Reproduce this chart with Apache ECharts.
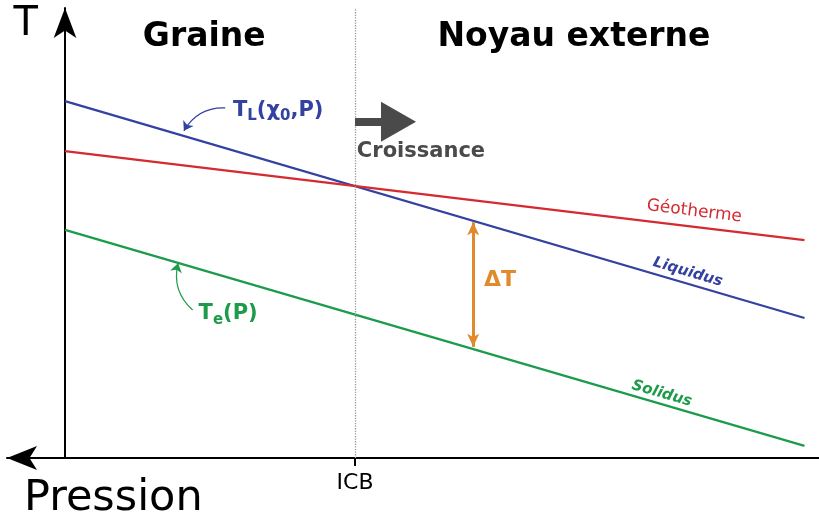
<!DOCTYPE html>
<html>
<head>
<meta charset="utf-8">
<title>Graine / Noyau externe</title>
<script src="https://cdn.jsdelivr.net/npm/echarts@6/dist/echarts.min.js"></script>
<style>
  html, body { margin: 0; padding: 0; background: #fff; }
  #chart { width: 819px; height: 515px; }
</style>
</head>
<body>
<div id="chart"></div>
<script>
// pression (unités arbitraires) aux deux bouts des droites
let pression = [0, 102];
let liquidus = [79.3, 31.1];
let geotherme = [68.2, 48.4];
let solidus = [50.7, 2.7];
let icb = 40;

let font = 'DejaVu Sans';
let blue = '#3341a0';
let red = '#d42a30';
let green = '#1c9c4a';
let orange = '#e08a2c';
let grey = '#4a4a4a';

function toPoints(values) {
  return pression.map(function (p, i) { return [p, values[i]]; });
}

// markPoint invisible qui ne sert qu'à porter un texte
let textOnly = { symbol: 'circle', symbolSize: 1, silent: true, itemStyle: { color: 'rgba(0,0,0,0)' } };

function txt(coord, text, style) {
  return { coord: coord, label: Object.assign({ show: true, formatter: text, fontFamily: font, position: 'inside' }, style) };
}

function subRich(color) {
  return {
    m: { fontFamily: font, fontSize: 21, fontWeight: 'bold', color: color, lineHeight: 30 },
    s: { fontFamily: font, fontSize: 15, fontWeight: 'bold', color: color, lineHeight: 18, padding: [12, 0, 0, 0] }
  };
}

// petite flèche courbe qui relie un texte à sa droite
function curvedArrow(from, to, color, curveness) {
  return {
    type: 'lines', coordinateSystem: 'cartesian2d', silent: true,
    symbol: ['none', 'arrow'], symbolSize: [6, 9],
    lineStyle: { color: color, width: 1.2, opacity: 1, curveness: curveness },
    data: [{ coords: [from, to] }]
  };
}

let chart = echarts.init(document.getElementById('chart'));

let option = {
  animation: false,
  grid: { left: 7, right: 0, top: 8, bottom: 57, outerBoundsMode: 'none' },
  xAxis: {
    type: 'value', min: -8, max: 104,
    name: 'Pression', nameLocation: 'start', nameGap: -17, nameMoveOverlap: false,
    nameTextStyle: { fontFamily: font, fontSize: 43, color: '#000', align: 'left', verticalAlign: 'top', padding: [19, 0, 0, 0] },
    axisLine: { show: true, symbol: ['arrow', 'none'], symbolSize: [18, 30], lineStyle: { color: '#000', width: 2 } },
    axisTick: { show: true, customValues: [icb], length: 8, lineStyle: { color: '#000', width: 2 } },
    axisLabel: { show: true, customValues: [icb], formatter: function () { return 'ICB'; }, margin: 14, fontFamily: font, fontSize: 22, color: '#000' },
    splitLine: { show: false }
  },
  yAxis: {
    type: 'value', min: 0, max: 100,
    name: 'T', nameLocation: 'end', nameGap: -17, nameMoveOverlap: false,
    nameTextStyle: { fontFamily: font, fontSize: 40, color: '#000', align: 'right', verticalAlign: 'middle', padding: [0, 27, 0, 0] },
    axisLine: { show: true, onZero: true, symbol: ['none', 'arrow'], symbolSize: [17, 30], lineStyle: { color: '#000', width: 2 } },
    axisTick: { show: false },
    axisLabel: { show: false },
    splitLine: { show: false }
  },
  series: [
    {
      name: 'Liquidus', type: 'line', data: toPoints(liquidus), symbol: 'none', silent: true,
      lineStyle: { color: blue, width: 2.2 },
      markPoint: Object.assign({}, textOnly, { data: [
        txt([85.9, 41.3], 'Liquidus', { color: blue, fontSize: 15, fontWeight: 'bold', fontStyle: 'italic', rotate: -16.4 }),
        txt([29.4, 77.3], '{m|T}{s|L}{m|(χ}{s|0}{m|,P)}', { rich: subRich(blue) })
      ] })
    },
    {
      name: 'Géotherme', type: 'line', data: toPoints(geotherme), symbol: 'none', silent: true,
      lineStyle: { color: red, width: 2.2 },
      markPoint: Object.assign({}, textOnly, { data: [
        txt([86.8, 54.8], 'Géotherme', { color: red, fontSize: 17, rotate: -7 })
      ] })
    },
    {
      name: 'Solidus', type: 'line', data: toPoints(solidus), symbol: 'none', silent: true,
      lineStyle: { color: green, width: 2.2 },
      markPoint: Object.assign({}, textOnly, { data: [
        txt([82.3, 14.3], 'Solidus', { color: green, fontSize: 15, fontWeight: 'bold', fontStyle: 'italic', rotate: -16.2 }),
        txt([22.5, 32], '{m|T}{s|e}{m|(P)}', { rich: subRich(green) })
      ] })
    },
    curvedArrow([22.1, 77.8], [16.4, 72.7], blue, -0.3),
    curvedArrow([17.6, 32.9], [15.6, 43.3], green, 0.3),
    {
      // repères : ICB, croissance, écart ΔT, titres des deux domaines
      name: 'repères', type: 'line', data: [], silent: true,
      markLine: { silent: true, symbol: 'none', label: { show: false }, data: [
        { xAxis: icb, lineStyle: { color: '#9a9a9a', width: 1.3, type: 'dotted' } },
        [
          { coord: [icb, 74.7], symbol: 'none', lineStyle: { color: grey, width: 8, type: 'solid' } },
          { coord: [46, 74.7], symbol: 'triangle', symbolSize: [40, 35] }
        ],
        [
          { coord: [56.3, 52.4], symbol: 'arrow', symbolSize: [9, 13], lineStyle: { color: orange, width: 3, type: 'solid' } },
          { coord: [56.3, 24.7], symbol: 'arrow', symbolSize: [9, 13] }
        ]
      ] },
      markPoint: Object.assign({}, textOnly, { data: [
        txt([19.2, 93.5], 'Graine', { color: '#000', fontSize: 33, fontWeight: 'bold' }),
        txt([70.2, 93.5], 'Noyau externe', { color: '#000', fontSize: 33, fontWeight: 'bold' }),
        txt([49.1, 68.1], 'Croissance', { color: grey, fontSize: 21, fontWeight: 'bold' }),
        txt([60, 39.6], 'ΔT', { color: orange, fontSize: 22, fontWeight: 'bold' })
      ] })
    }
  ]
};

chart.setOption(option);
</script>
</body>
</html>
